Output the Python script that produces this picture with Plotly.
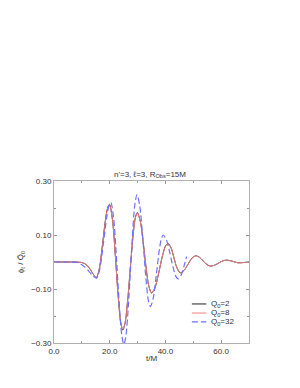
import plotly.graph_objects as go

# Q0=2 (solid black)
t_q2 = [0, 5, 8, 9, 10, 11, 12, 13, 14, 14.7, 15.2, 16.2, 17.3, 18.4, 19.2, 19.9,
        21, 22, 23, 24, 24.7, 25.5, 26.5, 27.5, 28.5, 29.2, 29.9, 31, 32, 33, 34, 35,
        36.2, 37.5, 38.8, 40, 40.9, 42, 43, 44, 45.3, 46.7, 48.1, 49.5, 50.9, 52.2,
        53.5, 54.9, 56.2, 57.6, 59.1, 60.5, 62, 64, 66, 68, 70]
v_q2 = [0, 0, 0, -0.001, -0.002, -0.006, -0.014, -0.027, -0.044, -0.054, -0.058, -0.029,
        0.055, 0.151, 0.199, 0.214, 0.156, 0.026, -0.122, -0.228, -0.252, -0.227, -0.136,
        -0.008, 0.110, 0.164, 0.183, 0.150, 0.075, -0.016, -0.087, -0.115, -0.097, -0.045,
        0.017, 0.059, 0.069, 0.053, 0.018, -0.018, -0.040, -0.031, -0.0085, 0.014, 0.023,
        0.0176, 0.0046, -0.0097, -0.015, -0.0118, -0.004, 0.0038, 0.007, 0.003, -0.003,
        -0.002, 0.0]

# Q0=8 (solid red)
t_q8 = t_q2
v_q8 = [0, 0, 0, -0.001, -0.002, -0.006, -0.014, -0.027, -0.044, -0.054, -0.057, -0.029,
        0.054, 0.149, 0.197, 0.212, 0.155, 0.026, -0.121, -0.226, -0.249, -0.225, -0.135,
        -0.008, 0.109, 0.163, 0.182, 0.149, 0.075, -0.016, -0.087, -0.114, -0.096, -0.045,
        0.017, 0.058, 0.068, 0.053, 0.018, -0.018, -0.040, -0.031, -0.0085, 0.014, 0.023,
        0.0176, 0.0046, -0.0097, -0.015, -0.0118, -0.004, 0.0038, 0.007, 0.003, -0.003,
        -0.002, 0.0]

# Q0=32 (dashed blue)
t_q32 = [0, 5, 8, 9, 10, 11, 12, 13, 14, 15.3, 16.5, 17.7, 18.9, 19.7, 20.4, 21.4, 22.5,
         23.6, 24.4, 25.1, 25.8, 26.9, 28, 29, 29.8, 30.8, 31.9, 33, 33.9, 34.6, 35.6,
         36.7, 37.8, 38.6, 39.2, 40.4, 41.6, 42.8, 43.8, 44.6, 45.6, 46.6, 47.6]
v_q32 = [0, 0, -0.001, -0.004, -0.01, -0.018, -0.028, -0.04, -0.052, -0.06, -0.023, 0.067,
         0.164, 0.207, 0.22, 0.164, 0.001, -0.184, -0.277, -0.305, -0.275, -0.127, 0.072,
         0.211, 0.25, 0.207, 0.083, -0.061, -0.144, -0.165, -0.135, -0.05, 0.044, 0.089,
         0.10, 0.081, 0.033, -0.022, -0.054, -0.063, -0.05, -0.018, 0.02]

series_names = ["Q<sub>0</sub>=2", "Q<sub>0</sub>=8", "Q<sub>0</sub>=32"]
x_ticks = [0, 20, 40, 60]
y_ticks = [0.30, 0.10, -0.10, -0.30]

styles = [
    dict(color="#222222", width=1),
    dict(color="#f08080", width=1),
    dict(color="#6f6fff", width=1.2, dash="6px,3px"),
]
data = [(t_q2, v_q2), (t_q8, v_q8), (t_q32, v_q32)]

fig = go.Figure()
for (tx, vy), name, st in zip(data, series_names, styles):
    fig.add_trace(go.Scatter(x=tx, y=vy, mode="lines", name=name, showlegend=False,
                             line=dict(shape="spline", smoothing=0.8, **st)))

# compact manual legend (plotly's legend rows are too tall)
leg_y = [0.241, 0.185, 0.130]
for name, st, yy in zip(series_names, styles, leg_y):
    fig.add_shape(type="line", xref="paper", yref="paper", x0=0.707, x1=0.781, y0=yy, y1=yy,
                  line=st)
    fig.add_annotation(xref="paper", yref="paper", x=0.797, y=yy, text=name, showarrow=False,
                       xanchor="left", yanchor="middle", font=dict(size=8, color="#333333"))

axis_common = dict(showgrid=False, zeroline=False, showline=True, linecolor="#b0b0b0",
                   linewidth=1, mirror="ticks", ticks="inside", ticklen=3, tickcolor="#999999",
                   tickfont=dict(size=8, color="#333333"))

fig.update_xaxes(range=[0, 70], tickvals=x_ticks, tickformat=".1f",
                 title=dict(text="t/M", font=dict(size=8, color="#333333"), standoff=0),
                 minor=dict(ticks="inside", ticklen=2, dtick=10, tick0=0, tickcolor="#999999"),
                 **axis_common)
fig.update_yaxes(range=[-0.30, 0.30], tickvals=y_ticks, tickformat=".2f",
                 title=dict(text="ϕ<sub>ℓ</sub> / Q\u0303<sub>0</sub>", font=dict(size=8, color="#333333"), standoff=6),
                 minor=dict(ticks="inside", ticklen=2, tickvals=[0.2, 0.0, -0.2], tickcolor="#999999"),
                 **axis_common)

fig.update_layout(
    width=284, height=372,
    margin=dict(l=43, r=43, t=173, b=37),
    paper_bgcolor="white", plot_bgcolor="white",
    font=dict(family="Liberation Sans, Arial, sans-serif", size=8, color="#333333"),
    title=dict(text="n'=3, ℓ=3, R<sub>Obs</sub>=15M", x=0.5, xanchor="center",
               y=1 - 166 / 372, yanchor="middle", font=dict(size=8, color="#333333")),
    showlegend=False,
)

fig.write_html("out.html")
